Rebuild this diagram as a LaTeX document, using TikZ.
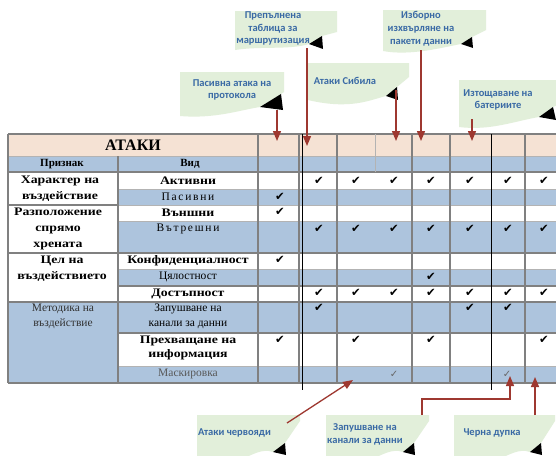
\documentclass[tikz,border=0pt]{standalone}
\usepackage{fontspec}
\setmainfont{Liberation Serif}
\newfontfamily\notefont{Carlito}
\newfontfamily\heavyfont{Liberation Serif}[FakeStretch=1.2]
\newfontfamily\widefont{Liberation Serif}[LetterSpace=15]
\newfontfamily\symfont{DejaVu Sans}
\usepackage{xcolor}
\usepackage{tikz}
\usetikzlibrary{arrows.meta}

\definecolor{headpeach}{RGB}{245,226,212}
\definecolor{rowblue}{RGB}{173,196,221}
\definecolor{notegreen}{RGB}{226,239,218}
\definecolor{noteblue}{RGB}{58,106,165}
\definecolor{arrowred}{RGB}{158,56,48}
\definecolor{rulegray}{RGB}{128,128,128}

\begin{document}
\begin{tikzpicture}[x=1pt, y=-1pt,
    cell/.style={font=\fontsize{11.5}{15}\selectfont, align=center, inner sep=0pt},
    widecell/.style={font=\widefont\fontsize{11.5}{15}\selectfont, align=center, inner sep=0pt},
    heavy/.style={font=\heavyfont\bfseries\fontsize{11.5}{16}\selectfont, align=center, inner sep=0pt},
    tick/.style={font=\symfont\fontsize{11.5}{11.5}\selectfont, inner sep=0pt},
    softtick/.style={font=\symfont\fontsize{10}{10}\selectfont, inner sep=0pt, text=black!60},
    note/.style={fill=notegreen},
    notetext/.style={font=\notefont\bfseries\fontsize{10.5}{12.8}\selectfont, text=noteblue, align=center, inner sep=0pt},
    arrow/.style={-{Triangle[width=8pt,length=10pt]}, line width=1.3pt, draw=arrowred},
    rule/.style={draw=rulegray, line width=1.5pt},
    hairline/.style={draw=rulegray!60, line width=0.5pt}
]
    \useasboundingbox (0,0) rectangle (556,455);
    \clip (0,0) rectangle (556,455);
    \fill[white] (0,0) rectangle (556,455);

    % Table fills
    \fill[headpeach] (8,134) rectangle (560,156);
    \fill[rowblue] (8,156) rectangle (560,172);
    \fill[rowblue] (118,189) rectangle (560,205);
    \fill[rowblue] (118,221) rectangle (560,253);
    \fill[rowblue] (118,269) rectangle (560,286);
    \fill[rowblue] (8,302) rectangle (560,333);
    \fill[rowblue] (8,333) rectangle (118,366);
    \fill[rowblue] (8,366) rectangle (560,383);

    % Grid
    \draw[rule] (8,134) -- (560,134);
    \draw[hairline] (8,156) -- (560,156);
    \draw[rule] (8,172) -- (560,172);
    \foreach \gy in {189,205,221,269,366} \draw[hairline] (118,\gy) -- (560,\gy);
    \draw[rule] (8,205) -- (118,205);
    \foreach \gy in {253,302} \draw[rule] (8,\gy) -- (560,\gy);
    \foreach \gy in {286,333} \draw[rule] (118,\gy) -- (560,\gy);
    \draw[rule] (8,383) -- (560,383);
    \draw[rule] (8,134) -- (8,383);
    \draw[rule] (118,156) -- (118,383);
    \foreach \gx in {258,299,337,412,450,525} \draw[rule] (\gx,134) -- (\gx,383);
    \draw[hairline] (375,134) -- (375,172);
    \draw[black, line width=0.6pt] (302,134) -- (302,390);
    \draw[black, line width=0.6pt] (491,134) -- (491,390);

    % Header
    \node[font=\bfseries\fontsize{16}{20}\selectfont, inner sep=0pt] (title) at (133,145) {АТАКИ};
    \node[cell, font=\bfseries\fontsize{11}{14}\selectfont] (sign) at (62,164) {Признак};
    \node[cell, font=\bfseries\fontsize{11}{14}\selectfont] (kind) at (190,164) {Вид};

    % Features (first column)
    \node[heavy] (character) at (60,189) {Характер на\\въздействие};
    \node[heavy] (location) at (58,229) {Разположение\\спрямо\\хрената};
    \node[heavy] (goal) at (62,269) {Цел на\\въздействието};
    \node[cell, text=black!80] (method) at (63,316.5) {Методика на\\въздействие};

    % Kinds (second column)
    \node[heavy] (active) at (188,181) {Активни};
    \node[widecell] (passive) at (188,197) {Пасивни};
    \node[heavy] (external) at (188,213) {Външни};
    \node[widecell] (internal) at (188,229) {Вътрешни};
    \node[heavy] (confid) at (188,261) {Конфиденциалност};
    \node[cell] (integrity) at (188,277) {Цялостност};
    \node[heavy] (avail) at (188,294) {Достъпност};
    \node[cell] (jamming) at (188,316.5) {Запушване на\\канали за данни};
    \node[heavy, font=\heavyfont\bfseries\fontsize{11.5}{14}\selectfont] (intercept) at (188,348) {Прехващане на\\информация};
    \node[cell, text=black!65] (masking) at (188,374) {Маскировка};

    % Check marks
    \foreach \r/\y/\cols in {act/181/{2,...,8}, pas/197/{1}, ext/212/{1}, int/229/{2,...,8},
        conf/260/{1}, integ/277/{5}, avl/293/{2,...,8}, jam/308/{2,6,7}, icp/340/{1,3,5,8}}
        \foreach \c in \cols {
            \pgfmathsetmacro\cx{{280,319,356,394,431,470,508,544}[\c-1]}
            \node[tick] (\r-\c) at (\cx,\y) {✔};
        }
    \node[softtick] (mask-4) at (394,374) {✓};
    \node[softtick] (mask-7) at (507,374) {✓};

    % Callouts above the table
    \fill[note] (235,11) -- (337,11) -- (337,32) -- (322,36) -- (309,44) .. controls (290,50) and (260,46) .. (235,50) -- cycle;
    \fill (309,44) -- (322,36) -- (323,49) -- cycle;
    \node[notetext] (n-route) at (273,28.5) {Препълнена\\таблица за\\маршрутизация};

    \fill[note] (180,72) -- (284,72) -- (284,92) -- (281,94) -- (260,107) .. controls (240,110) and (215,119) .. (180,116) -- cycle;
    \fill (260,107) -- (281,94) -- (283,110) -- cycle;
    \node[notetext] (n-passive) at (232,90) {Пасивна атака на\\протокола};

    \fill[note] (308,63) -- (409,63) -- (409,77) -- (397,87) -- (386,96) .. controls (370,100) and (350,110) .. (308,100) -- cycle;
    \fill (386,96) -- (397,87) -- (398,100) -- cycle;
    \node[notetext] (n-sybil) at (345,81) {Атаки Сибила};

    \fill[note] (383,10) -- (486,10) -- (486,30) -- (472,37) -- (461,44) .. controls (440,48) and (410,56) .. (383,51) -- cycle;
    \fill (461,44) -- (472,37) -- (473,48) -- cycle;
    \node[notetext] (n-select) at (421,28.5) {Изборно\\изхвърляне на\\пакети данни};

    \fill[note] (459,80) -- (560,80) -- (560,104) -- (553,107) -- (539,117) .. controls (515,121) and (490,131) .. (459,127) -- cycle;
    \fill (539,117) -- (553,107) -- (556,120) -- cycle;
    \node[notetext] (n-battery) at (498,100) {Изтощаване на\\батериите};

    % Callouts below the table
    \fill[note] (197,415) -- (300,415) -- (300,421) -- (285,443) -- (273,452) .. controls (262,448) and (252,455) .. (240,460) -- (197,460) -- cycle;
    \fill (273,452) -- (285,443) -- (286,455) -- cycle;
    \node[notetext, anchor=west] (n-worm) at (198,433) {Атаки червояди};

    \fill[note] (326,415) -- (429,415) -- (429,421) -- (414,443) -- (403,452) .. controls (392,448) and (382,455) .. (370,460) -- (326,460) -- cycle;
    \fill (403,452) -- (414,443) -- (415,455) -- cycle;
    \node[notetext] (n-jam) at (365,434) {Запушване на\\канали за данни};

    \fill[note] (454,415) -- (555,415) -- (555,421) -- (541,443) -- (530,452) .. controls (519,448) and (509,455) .. (497,460) -- (454,460) -- cycle;
    \fill (530,452) -- (541,443) -- (542,455) -- cycle;
    \node[notetext] (n-hole) at (492,433) {Черна дупка};

    % Arrow ends
    \coordinate (route-from) at (307,48);  \coordinate (route-to) at (307,146);
    \coordinate (pas-from) at (277,110);   \coordinate (pas-to) at (277,141);
    \coordinate (sib-from) at (396,90);    \coordinate (sib-to) at (396,141);
    \coordinate (sel-from) at (421,50);    \coordinate (sel-to) at (421,141);
    \coordinate (bat-from) at (472,119);   \coordinate (bat-to) at (472,141);
    \coordinate (worm-from) at (287,423);  \coordinate (worm-to) at (353,380);
    \coordinate (jam-from) at (422,415);   \coordinate (jam-to) at (510,376);
    \coordinate (hole-from) at (535,415);  \coordinate (hole-to) at (535,377);

    % Arrows
    \draw[arrow] (route-from) -- (route-to);
    \draw[arrow] (pas-from) -- (pas-to);
    \draw[arrow] (sib-from) -- (sib-to);
    \draw[arrow] (sel-from) -- (sel-to);
    \draw[arrow] (bat-from) -- (bat-to);
    \draw[arrow] (worm-from) -- (worm-to);
    \draw[arrow] (jam-from) -- ++(0,-16) -| (jam-to);
    \draw[arrow] (hole-from) -- (hole-to);
\end{tikzpicture}
\end{document}
